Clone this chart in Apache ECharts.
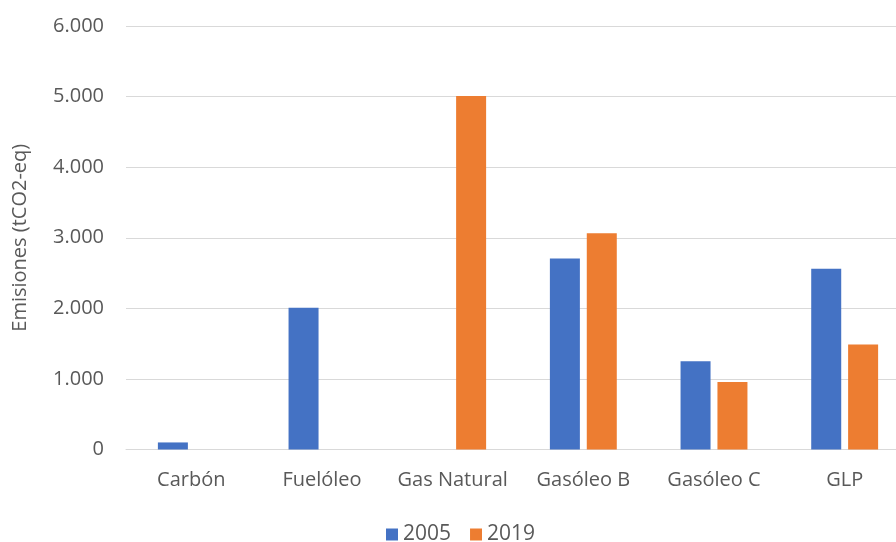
<!DOCTYPE html>
<html>
<head>
<meta charset="utf-8">
<script src="https://cdn.jsdelivr.net/npm/echarts@6/dist/echarts.min.js"></script>
<style>
  html, body { margin: 0; padding: 0; background: #fff; overflow: hidden; }
  /* plot area runs past the right edge of the window */
  #chart { width: 910px; height: 542px; }
</style>
</head>
<body>
<div id="chart"></div>
<script>
// Fuel categories and emissions (tCO2-eq) per year
const categories = ['Carbón', 'Fuelóleo', 'Gas Natural', 'Gasóleo B', 'Gasóleo C', 'GLP'];
const values2005 = [100, 2010, 0, 2705, 1250, 2560];
const values2019 = [0, 0, 5010, 3065, 955, 1487];
const seriesNames = ['2005', '2019'];

const textColor = '#595959';
const gridColor = '#d9d9d9';
const font = '"Open Sans", "Noto Sans", sans-serif';

// Spanish number format: dot as thousands separator
function fmt(v) {
  return String(v).replace(/\B(?=(\d{3})+(?!\d))/g, '.');
}

const chart = echarts.init(document.getElementById('chart'), null, { renderer: 'canvas' });
chart.setOption({
  animation: false,
  backgroundColor: '#ffffff',
  textStyle: { fontFamily: font },
  grid: { left: 126, top: 26, right: 0, bottom: 92.5, containLabel: false },
  legend: {
    data: seriesNames,
    left: 386,
    top: 524,
    padding: 0,
    itemWidth: 12,
    itemHeight: 12,
    itemGap: 19,
    icon: 'rect',
    textStyle: { color: textColor, fontSize: 21, fontFamily: font }
  },
  xAxis: {
    type: 'category',
    data: categories,
    axisLine: { lineStyle: { color: gridColor, width: 1 } },
    axisTick: { show: false },
    axisLabel: { color: textColor, fontSize: 20, margin: 21, fontFamily: font, interval: 0 }
  },
  yAxis: {
    type: 'value',
    min: 0,
    max: 6000,
    interval: 1000,
    name: 'Emisiones (tCO2-eq)',
    nameLocation: 'middle',
    nameGap: 96,
    nameTextStyle: { color: textColor, fontSize: 20, fontFamily: font },
    axisLine: { show: false },
    axisTick: { show: false },
    splitLine: { lineStyle: { color: gridColor, width: 1 } },
    axisLabel: { color: textColor, fontSize: 20, margin: 22, fontFamily: font, formatter: fmt }
  },
  series: [
    {
      name: seriesNames[0],
      type: 'bar',
      data: values2005,
      barWidth: 30,
      barGap: '23%',
      itemStyle: { color: '#4472C4' }
    },
    {
      name: seriesNames[1],
      type: 'bar',
      data: values2019,
      barWidth: 30,
      barGap: '23%',
      itemStyle: { color: '#ED7D31' }
    }
  ]
});
</script>
</body>
</html>
